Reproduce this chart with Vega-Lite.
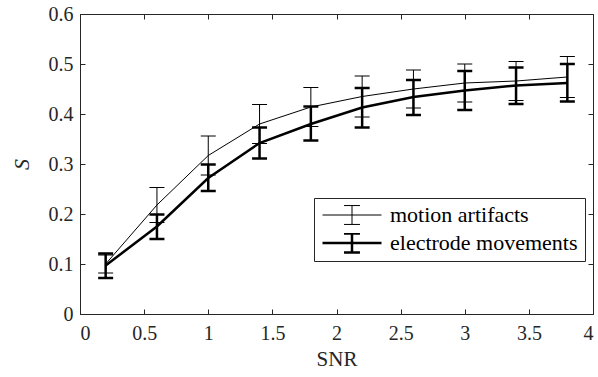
{
  "$schema": "https://vega.github.io/schema/vega-lite/v6.json",
  "width": 513,
  "height": 300,
  "autosize": {"type": "none"},
  "padding": {"left": 80, "top": 14, "right": 5, "bottom": 63},
  "background": "white",
  "config": {
    "view": {"stroke": "#262626", "strokeWidth": 1},
    "axis": {"labelFont": "Liberation Serif", "titleFont": "Liberation Serif", "labelFontSize": 20, "titleFontWeight": "normal", "grid": false},
    "axisX": {"labelFont": "Liberation Serif", "titleFont": "Liberation Serif", "titleFontWeight": "normal", "grid": false},
    "axisY": {"labelFont": "Liberation Serif", "titleFont": "Liberation Serif", "titleFontWeight": "normal", "grid": false},
    "axisBottom": {"labelFont": "Liberation Serif", "titleFont": "Liberation Serif", "titleFontWeight": "normal"},
    "axisLeft": {"labelFont": "Liberation Serif", "titleFont": "Liberation Serif", "titleFontWeight": "normal"},
    "axisQuantitative": {"labelFont": "Liberation Serif", "titleFont": "Liberation Serif", "titleFontWeight": "normal", "grid": false},
    "legend": {"labelFont": "Liberation Serif"}
  },
  "data": {
    "values": [
      {"snr": 0.2, "series": "motion artifacts", "s": 0.100, "lo": 0.082, "hi": 0.118},
      {"snr": 0.6, "series": "motion artifacts", "s": 0.218, "lo": 0.183, "hi": 0.253},
      {"snr": 1.0, "series": "motion artifacts", "s": 0.317, "lo": 0.278, "hi": 0.356},
      {"snr": 1.4, "series": "motion artifacts", "s": 0.380, "lo": 0.341, "hi": 0.419},
      {"snr": 1.8, "series": "motion artifacts", "s": 0.414, "lo": 0.375, "hi": 0.453},
      {"snr": 2.2, "series": "motion artifacts", "s": 0.435, "lo": 0.394, "hi": 0.476},
      {"snr": 2.6, "series": "motion artifacts", "s": 0.450, "lo": 0.412, "hi": 0.488},
      {"snr": 3.0, "series": "motion artifacts", "s": 0.462, "lo": 0.424, "hi": 0.500},
      {"snr": 3.4, "series": "motion artifacts", "s": 0.466, "lo": 0.427, "hi": 0.505},
      {"snr": 3.8, "series": "motion artifacts", "s": 0.474, "lo": 0.433, "hi": 0.515},
      {"snr": 0.2, "series": "electrode movements", "s": 0.097, "lo": 0.072, "hi": 0.121},
      {"snr": 0.6, "series": "electrode movements", "s": 0.175, "lo": 0.150, "hi": 0.199},
      {"snr": 1.0, "series": "electrode movements", "s": 0.272, "lo": 0.246, "hi": 0.299},
      {"snr": 1.4, "series": "electrode movements", "s": 0.342, "lo": 0.311, "hi": 0.373},
      {"snr": 1.8, "series": "electrode movements", "s": 0.380, "lo": 0.347, "hi": 0.415},
      {"snr": 2.2, "series": "electrode movements", "s": 0.413, "lo": 0.373, "hi": 0.452},
      {"snr": 2.6, "series": "electrode movements", "s": 0.434, "lo": 0.398, "hi": 0.468},
      {"snr": 3.0, "series": "electrode movements", "s": 0.447, "lo": 0.408, "hi": 0.486},
      {"snr": 3.4, "series": "electrode movements", "s": 0.457, "lo": 0.420, "hi": 0.493},
      {"snr": 3.8, "series": "electrode movements", "s": 0.462, "lo": 0.425, "hi": 0.500}
    ]
  },
  "resolve": {"axis": {"x": "independent", "y": "independent"}},
  "layer": [
    {
      "mark": {"type": "line", "color": "black"},
      "encoding": {
        "x": {"field": "snr", "type": "quantitative", "title": "SNR",
              "scale": {"domain": [0, 4], "nice": false},
              "axis": {"orient": "bottom", "values": [0, 0.5, 1, 1.5, 2, 2.5, 3, 3.5, 4], "format": "~g", "ticks": true, "tickSize": -5, "tickWidth": 1, "tickColor": "#262626", "labelPadding": 14, "labelColor": "#262626", "labelFont": "Liberation Serif", "labelFontSize": 20, "titleColor": "#262626", "titleFont": "Liberation Serif", "titleFontWeight": "normal", "domainColor": "#262626", "titleFontSize": 21, "titlePadding": 5}},
        "y": {"field": "s", "type": "quantitative", "title": "S",
              "scale": {"domain": [0, 0.6], "nice": false},
              "axis": {"orient": "left", "values": [0, 0.1, 0.2, 0.3, 0.4, 0.5, 0.6], "format": "~g", "ticks": true, "tickSize": -5, "tickWidth": 1, "tickColor": "#262626", "labelPadding": 12, "labelColor": "#262626", "labelFont": "Liberation Serif", "labelFontSize": 20, "titleColor": "#262626", "titleFont": "Liberation Serif", "domainColor": "#262626", "titleFontSize": 22, "titleFontStyle": "italic", "titleFontWeight": "normal", "titlePadding": 15}},
        "detail": {"field": "series"},
        "strokeWidth": {"field": "series", "type": "ordinal",
          "scale": {"domain": ["motion artifacts", "electrode movements"], "range": [1, 2.5]},
          "legend": {
            "title": null,
            "orient": "none",
            "legendX": 234,
            "legendY": 184,
            "symbolType": "M-1,0H1M0,-0.32V0.32M-0.27,-0.32H0.27M-0.27,0.32H0.27",
            "symbolSize": 3481,
            "symbolStrokeColor": "black",
            "symbolFillColor": "transparent",
            "labelFont": "Liberation Serif",
            "labelFontSize": 22,
            "labelColor": "black",
            "labelLimit": 400,
            "labelOffset": 7,
            "clipHeight": 20,
            "rowPadding": 6,
            "padding": 7,
            "strokeColor": "#262626",
            "fillColor": "white",
            "cornerRadius": 0
          }}
      }
    },
    {
      "mark": {"type": "rule", "color": "black"},
      "encoding": {
        "x": {"field": "snr", "type": "quantitative",
              "axis": {"orient": "top", "values": [0, 0.5, 1, 1.5, 2, 2.5, 3, 3.5, 4], "labels": false, "title": null, "domain": false, "ticks": true, "tickSize": -5, "tickWidth": 1, "tickColor": "#262626"}},
        "y": {"field": "lo", "type": "quantitative",
              "axis": {"orient": "right", "values": [0, 0.1, 0.2, 0.3, 0.4, 0.5, 0.6], "labels": false, "title": null, "domain": false, "ticks": true, "tickSize": -5, "tickWidth": 1, "tickColor": "#262626"}},
        "y2": {"field": "hi"},
        "strokeWidth": {"field": "series", "type": "ordinal", "legend": null}
      }
    },
    {
      "mark": {"type": "point", "shape": "M-1,0H1", "size": 225, "filled": false, "color": "black", "opacity": 1},
      "encoding": {
        "x": {"field": "snr", "type": "quantitative", "axis": null},
        "y": {"field": "lo", "type": "quantitative", "axis": null},
        "strokeWidth": {"field": "series", "type": "ordinal", "legend": null}
      }
    },
    {
      "mark": {"type": "point", "shape": "M-1,0H1", "size": 225, "filled": false, "color": "black", "opacity": 1},
      "encoding": {
        "x": {"field": "snr", "type": "quantitative", "axis": null},
        "y": {"field": "hi", "type": "quantitative", "axis": null},
        "strokeWidth": {"field": "series", "type": "ordinal", "legend": null}
      }
    }
  ]
}
